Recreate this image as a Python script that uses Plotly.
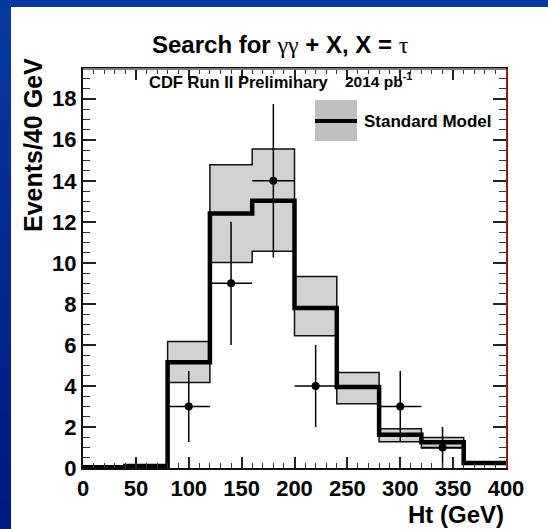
import plotly.graph_objects as go

# ---- data ----
bin_edges = [0, 40, 80, 120, 160, 200, 240, 280, 320, 360, 400]
sm_values = [0.04, 0.10, 5.15, 12.40, 13.03, 7.80, 3.95, 1.62, 1.25, 0.24]
sm_upper = [0.06, 0.13, 6.17, 14.78, 15.55, 9.34, 4.66, 1.91, 1.49, 0.30]
sm_lower = [0.02, 0.07, 4.17, 10.02, 10.56, 6.45, 3.13, 1.28, 0.97, 0.18]

data_x = [100, 140, 180, 220, 300, 340]
data_y = [3, 9, 14, 4, 3, 1]
data_xerr = [20, 20, 20, 20, 20, 20]
data_yerr = [1.73, 3.0, 3.74, 2.0, 1.73, 1.0]

x_ticks = [0, 50, 100, 150, 200, 250, 300, 350, 400]
y_ticks = [0, 2, 4, 6, 8, 10, 12, 14, 16, 18]

FONT = "Liberation Sans"
W, H = 548, 529
L, R, T, B = 83, 42, 69, 61
PW, PH = W - L - R, H - T - B


def px_x(p):
    return (p - L) / PW


def px_y(p):
    return (H - B - p) / PH


# band polygon (upper steps forward, lower steps backward)
bx, by = [], []
for i in range(len(sm_upper)):
    bx += [bin_edges[i], bin_edges[i + 1]]
    by += [sm_upper[i], sm_upper[i]]
for i in reversed(range(len(sm_lower))):
    bx += [bin_edges[i + 1], bin_edges[i]]
    by += [sm_lower[i], sm_lower[i]]
bx.append(bx[0])
by.append(by[0])

fig = go.Figure()
fig.add_trace(go.Scatter(x=bx, y=by, mode="lines", fill="toself",
                         fillcolor="#d2d2d2", line=dict(color="#111", width=1.5),
                         hoverinfo="skip", showlegend=False))
fig.add_trace(go.Scatter(x=bin_edges, y=sm_values + [sm_values[-1]], mode="lines",
                         line=dict(color="black", width=4.5, shape="hv"),
                         showlegend=False))
fig.add_trace(go.Scatter(x=data_x, y=data_y, mode="markers",
                         marker=dict(color="black", size=8),
                         error_x=dict(type="data", array=data_xerr, color="black", thickness=1.5, width=0),
                         error_y=dict(type="data", array=data_yerr, color="black", thickness=1.5, width=0),
                         showlegend=False))

shapes = []
# blue slide background strips (vertical gradient on the left)
n = 24
y_bot, y_top = px_y(H + 2), px_y(-2)
step = (y_top - y_bot) / n
for k in range(n):
    f = k / (n - 1)
    r = int(0x0a + (0x00 - 0x0a) * f)
    g = int(0x3a + (0x1a - 0x3a) * f)
    b = int(0xa0 + (0x80 - 0xa0) * f)
    y1 = y_top - step * k + step * 0.3
    y0 = y_top - step * (k + 1) - step * 0.3
    shapes.append(dict(type="rect", xref="paper", yref="paper",
                       x0=px_x(-2), x1=px_x(11), y0=y0, y1=y1,
                       fillcolor=f"rgb({r},{g},{b})", line=dict(width=0), layer="above"))
shapes.append(dict(type="rect", xref="paper", yref="paper",
                   x0=px_x(-2), x1=px_x(W + 2), y0=px_y(7), y1=y_top,
                   fillcolor="#05389f", line=dict(width=0), layer="above"))
# frame accents
shapes.append(dict(type="line", xref="paper", yref="paper", x0=0, x1=1, y0=1, y1=1,
                   line=dict(color="#7a7a7a", width=2), layer="above"))
shapes.append(dict(type="line", xref="paper", yref="paper", x0=1.002, x1=1.002, y0=0, y1=1,
                   line=dict(color="#e02020", width=1.2), layer="above"))
# legend
shapes.append(dict(type="rect", xref="paper", yref="paper",
                   x0=px_x(315), x1=px_x(357), y0=px_y(141), y1=px_y(100),
                   fillcolor="#c0c0c0", line=dict(width=0)))
shapes.append(dict(type="line", xref="paper", yref="paper",
                   x0=px_x(315), x1=px_x(357), y0=px_y(121), y1=px_y(121),
                   line=dict(color="black", width=4)))

serif = "font-family:Liberation Serif;font-weight:normal"
annotations = [
    dict(text=f"Search for <span style='{serif}'>γγ</span> + X, X = <span style='{serif}'>τ</span>",
         xref="paper", yref="paper", x=px_x(280), y=px_y(44), xanchor="center", yanchor="middle",
         showarrow=False, font=dict(family=FONT, size=24, color="black", weight="bold")),
    dict(text="CDF Run II Preliminary", xref="paper", yref="paper", x=px_x(147), y=px_y(82),
         xanchor="left", yanchor="middle", showarrow=False,
         font=dict(family=FONT, size=16.5, color="black", weight="bold")),
    dict(text="2014 pb<sup>-1</sup>", xref="paper", yref="paper", x=px_x(343), y=px_y(80),
         xanchor="left", yanchor="middle", showarrow=False,
         font=dict(family=FONT, size=15.5, color="black", weight="bold")),
    dict(text="Standard Model", xref="paper", yref="paper", x=px_x(362), y=px_y(121),
         xanchor="left", yanchor="middle", showarrow=False,
         font=dict(family=FONT, size=17, color="black", weight="bold")),
    dict(text="Events/40 GeV", xref="paper", yref="paper", x=px_x(33), y=px_y(145),
         xanchor="center", yanchor="middle", textangle=-90, showarrow=False,
         font=dict(family=FONT, size=25, color="black", weight="bold")),
    dict(text="Ht (GeV)", xref="paper", yref="paper", x=1.0, y=px_y(514),
         xanchor="right", yanchor="middle", showarrow=False,
         font=dict(family=FONT, size=24, color="black", weight="bold")),
]

fig.update_layout(
    width=W, height=H,
    margin=dict(l=L, r=R, t=T, b=B),
    paper_bgcolor="white", plot_bgcolor="white",
    showlegend=False,
    shapes=shapes, annotations=annotations,
    xaxis=dict(range=[0, 400], tickvals=x_ticks, ticktext=[str(v) for v in x_ticks],
               ticks="inside", ticklen=11, tickwidth=1.5, tickcolor="#222",
               minor=dict(dtick=10, tick0=0, ticks="inside", ticklen=5, tickwidth=1, tickcolor="#333"),
               showline=True, linecolor="#111", linewidth=2, mirror="ticks",
               showgrid=False, zeroline=False,
               tickfont=dict(family=FONT, size=22, color="black", weight="bold")),
    yaxis=dict(range=[0, 19.45], tickvals=y_ticks, ticktext=[str(v) for v in y_ticks],
               ticks="inside", ticklen=13, tickwidth=1.5, tickcolor="#222",
               minor=dict(dtick=0.5, tick0=0, ticks="inside", ticklen=7, tickwidth=1, tickcolor="#333"),
               showline=True, linecolor="#111", linewidth=2, mirror="ticks",
               showgrid=False, zeroline=False,
               tickfont=dict(family=FONT, size=22, color="black", weight="bold")),
)

fig.write_html("out.html")
